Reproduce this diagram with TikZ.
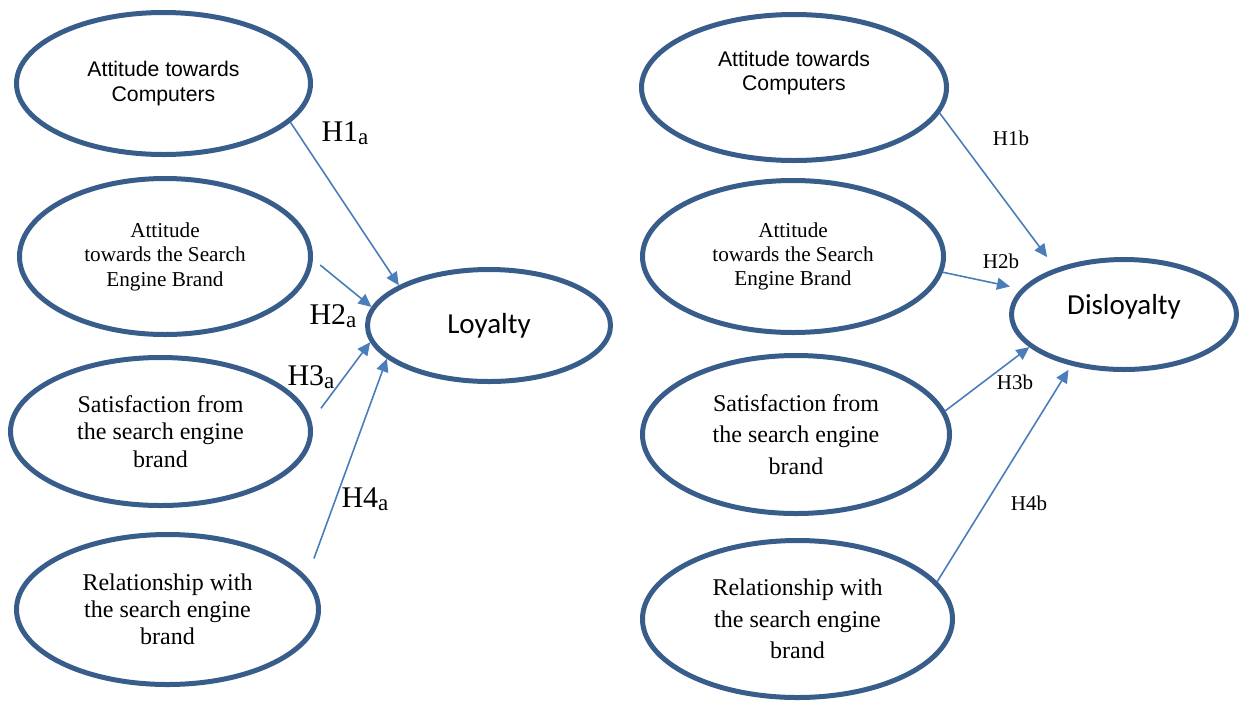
\documentclass[tikz,border=0pt]{standalone}
\usepackage{fontspec}
\setmainfont{Liberation Serif}
\newfontfamily\arialfont{Liberation Sans}
\newfontfamily\calibrifont{Carlito}
\usepackage{tikz}
\usetikzlibrary{shapes.geometric,arrows.meta,positioning}
\definecolor{ovalblue}{RGB}{56, 93, 138}
\definecolor{arrowblue}{RGB}{74, 126, 187}
\newcommand{\hsub}[1]{\raisebox{-1.5pt}{\fontsize{11.5}{12}\selectfont #1}}

\begin{document}
\begin{tikzpicture}[x=0.5pt, y=-0.5pt,
        oval/.style={ellipse, draw=ovalblue, line width=2.5pt, inner sep=0pt, align=center},
        link/.style={-{Triangle[length=6.5pt,width=6pt]}, line width=0.8pt, color=arrowblue},
        hyp/.style={font=\fontsize{15}{18}\selectfont, inner sep=0pt},
        hypsmall/.style={font=\fontsize{10.5}{12}\selectfont, inner sep=0pt}]
        \useasboundingbox (0,0) rectangle (1240,702);

        % Left model: predictors of loyalty
        \node[oval, minimum width=147pt, minimum height=71pt, font=\arialfont\fontsize{10.6}{12.5}\selectfont] (attCompA) at (163.5, 83.5) {Attitude towards\\Computers};
        \node[oval, minimum width=145.5pt, minimum height=78pt, font=\fontsize{10.6}{12.25}\selectfont] (attBrandA) at (165, 256.5) {Attitude\\towards the Search\\Engine Brand};
        \node[oval, minimum width=150pt, minimum height=74pt, font=\fontsize{12}{13.75}\selectfont] (satisA) at (160.5, 431.5) {Satisfaction from\\the search engine\\brand};
        \node[oval, minimum width=151pt, minimum height=75pt, font=\fontsize{12}{13.5}\selectfont] (relA) at (167.5, 609.5) {Relationship with\\the search engine\\brand};

        % Left model: outcome
        \node[oval, minimum width=121.5pt, minimum height=56pt, font=\calibrifont\fontsize{14.5}{17}\selectfont] (loyal) at (489, 325.5) {Loyalty};

        % Right model: predictors of disloyalty
        \node[oval, minimum width=152.5pt, minimum height=73pt,
              label={[name=attCompBtxt, align=center, inner sep=0pt, yshift=7.25pt, font=\arialfont\fontsize{10.6}{12}\selectfont]center:{Attitude towards\\Computers}}] (attCompB) at (794, 87.5) {};
        \node[oval, minimum width=150.5pt, minimum height=76pt, font=\fontsize{10.6}{12}\selectfont] (attBrandB) at (793, 256.5) {Attitude\\towards the Search\\Engine Brand};
        \node[oval, minimum width=153.5pt, minimum height=79pt, font=\fontsize{12}{15.75}\selectfont] (satisB) at (796, 434.5) {Satisfaction from\\the search engine\\brand};
        \node[oval, minimum width=155pt, minimum height=78.5pt, font=\fontsize{12}{15.75}\selectfont] (relB) at (797.5, 619) {Relationship with\\the search engine\\brand};

        % Right model: outcome
        \node[oval, minimum width=112.5pt, minimum height=55pt,
              label={[name=disloyalTxt, inner sep=0pt, yshift=3.75pt, font=\calibrifont\fontsize{14.5}{17}\selectfont]center:Disloyalty}] (disloyal) at (1124, 314.5) {};

        % Arrows
        \draw[link] (attCompA.-17) -- (loyal.156);
        \draw[link, shorten <=4.7pt] (attBrandA.-1.5) -- (loyal.171);
        \draw[link, shorten <=7.9pt] (satisA.4.2) -- (loyal.188);
        \draw[link, shorten <=10pt] (relA.13.9) -- (loyal.198);

        \draw[link, shorten >=7pt] (attCompB.-10.4) -- (disloyal.146.8);
        \draw[link, shorten >=5.7pt] (attBrandB.-6.3) -- (disloyal.166.6);
        \draw[link] (satisB.9.8) -- (disloyal.199);
        \draw[link, shorten >=2.5pt] (relB.15.6) -- (disloyal.224);

        % Hypothesis labels
        \node[hyp] (h1a) at (345, 133) {H1\hsub{a}};
        \node[hyp] (h2a) at (333, 316) {H2\hsub{a}};
        \node[hyp] (h3a) at (311, 377) {H3\hsub{a}};
        \node[hyp] (h4a) at (365, 499) {H4\hsub{a}};

        \node[hypsmall] (h1b) at (1011, 138) {H1b};
        \node[hypsmall] (h2b) at (1001, 261) {H2b};
        \node[hypsmall] (h3b) at (1015, 382) {H3b};
        \node[hypsmall] (h4b) at (1029, 503) {H4b};
    \end{tikzpicture}
\end{document}
